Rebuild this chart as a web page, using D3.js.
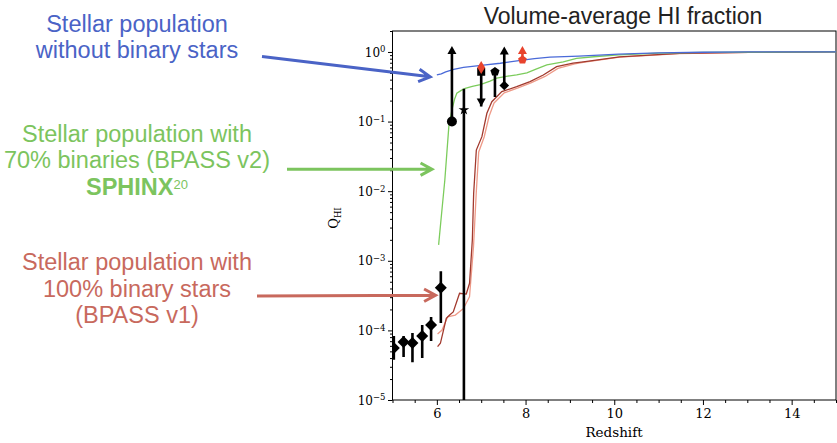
<!DOCTYPE html>
<html>
<head>
<meta charset="utf-8">
<script src="https://cdn.jsdelivr.net/npm/d3@7"></script>
<style>
  body { margin: 0; background: #fff; }
  .tick text { font-family: "DejaVu Serif", serif; fill: #000; }
</style>
</head>
<body>
<svg width="837" height="443"></svg>
<script>
// Simulatiecurves: redshift en neutrale fractie
var blueZ = [6.0, 6.1, 6.2, 6.38, 6.6, 7.0, 7.43, 7.85, 8.2, 8.55, 9.2, 10.1, 11.0, 12.0, 13.0, 15.0]
var blueQ = [0.467, 0.483, 0.516, 0.564, 0.599, 0.64, 0.688, 0.75, 0.8, 0.84, 0.87, 0.93, 0.97, 0.99, 1.0, 1.0]

var greenZ = [6.04, 6.1, 6.18, 6.27, 6.34, 6.4, 6.45, 6.55, 6.64, 6.8, 6.98, 7.2, 7.35, 7.6, 7.8, 8.03, 8.25, 8.48, 8.85, 9.15, 9.6, 10.1, 11.0, 12.0, 13.0, 15.0]
var greenQ = [0.00169, 0.0043, 0.0145, 0.0845, 0.147, 0.21, 0.255, 0.28, 0.30, 0.32, 0.34, 0.38, 0.42, 0.45, 0.47, 0.50, 0.57, 0.65, 0.72, 0.81, 0.86, 0.91, 0.96, 0.985, 0.995, 1.0]

var darkRedZ = [6.016, 6.08, 6.213, 6.288, 6.37, 6.512, 6.663, 6.737, 6.80, 6.83, 6.89, 7.016, 7.128, 7.24, 7.465, 7.80, 8.10, 8.40, 8.70, 9.07, 9.3, 10.12, 11.47, 13.04, 15.0]
var darkRedQ = [5.83e-5, 6.53e-5, 1.49e-4, 1.66e-4, 1.84e-4, 3.41e-4, 3.33e-4, 4.75e-4, 1.99e-3, 9.3e-3, 0.039, 0.0607, 0.1315, 0.193, 0.269, 0.317, 0.374, 0.467, 0.616, 0.69, 0.72, 0.847, 0.951, 0.984, 1.0]

var lightRedZ = [6.016, 6.117, 6.243, 6.416, 6.602, 6.737, 6.827, 6.888, 6.944, 7.067, 7.18, 7.29, 7.52, 7.83, 8.12, 8.44, 8.73, 9.11, 9.3, 10.12, 11.47, 13.04, 15.0]
var lightRedQ = [8.87e-5, 1.01e-4, 1.57e-4, 1.66e-4, 2.07e-4, 3.05e-4, 1.6e-3, 9.4e-3, 0.0366, 0.060, 0.12, 0.185, 0.258, 0.304, 0.359, 0.445, 0.58, 0.673, 0.71, 0.84, 0.95, 0.984, 1.0]

// Metingen bij lage redshift (ruiten met foutbalken)
var lowZ = [5.03, 5.25, 5.45, 5.67, 5.87, 6.09]
var lowQ = [5.6e-5, 6.8e-5, 6.6e-5, 8.3e-5, 1.2e-4, 4.1e-4]
var lowErrLo = [3.8e-5, 4.15e-5, 3.5e-5, 4.0e-5, 7.05e-5, 1.28e-4]
var lowErrHi = [8.3e-5, 8.3e-5, 9.2e-5, 1.2e-4, 1.56e-4, 7.1e-4]

// Ondergrenzen (pijl omhoog)
var lowerLimZ = [6.34, 7.52, 7.93]
var lowerLimQ = [0.10, 0.33, 0.77]
var lowerLimTo = [1.22, 1.2, 1.22]
var lowerLimMarker = ["circle", "diamond", "pentagon"]
var lowerLimColor = ["#000", "#000", "#e8432d"]

// Bovengrens (pijl omlaag)
var upperLimZ = [7.0]
var upperLimQ = [0.52]
var upperLimTo = [0.164]

// Metingen met foutbalken
var errZ = [6.61, 7.31]
var errQ = [0.147, 0.52]
var errLo = [1e-7, 0.225]
var errHi = [0.295, 0.52]
var errMarker = ["star", "pentagon"]

// Losse rode ruit
var redPointZ = [7.0]
var redPointQ = [0.60]

var xTicks = [6, 8, 10, 12, 14]
var yTicks = [-5, -4, -3, -2, -1, 0]

var svg = d3.select("svg")

var x = d3.scaleLinear()
    .domain([5, 15])
    .range([392.5, 836])

var y = d3.scaleLog()
    .domain([1e-5, 2])
    .range([400, 31])

svg.append("defs").append("clipPath")
    .attr("id", "plotclip")
  .append("rect")
    .attr("x", 392.5).attr("y", 31)
    .attr("width", 836 - 392.5).attr("height", 400 - 31)

// Assen
var xMinor = d3.range(5, 15.01, 0.5).filter(function(v) { return xTicks.indexOf(v) < 0 })

svg.append("g")
    .attr("transform", "translate(0,400)")
    .call(d3.axisBottom(x).tickValues(xMinor).tickSize(3).tickSizeOuter(0).tickFormat(""))
    .call(function(g) { g.select(".domain").remove() })

svg.append("g")
    .attr("transform", "translate(0,400)")
    .call(d3.axisBottom(x).tickValues(xTicks).tickSize(5).tickSizeOuter(0).tickPadding(4))
    .call(function(g) { g.select(".domain").remove() })
    .selectAll("text")
      .style("font-size", "13px")

var yMinor = []
yTicks.forEach(function(d) {
  for (var k = 2; k <= 9; k++) {
    var v = k * Math.pow(10, d)
    if (v <= 2) yMinor.push(v)
  }
})

svg.append("g")
    .attr("transform", "translate(392.5,0)")
    .call(d3.axisLeft(y).tickValues(yMinor).tickSize(2.5).tickSizeOuter(0).tickFormat(""))
    .call(function(g) { g.select(".domain").remove() })

var yAxis = svg.append("g")
    .attr("transform", "translate(392.5,0)")
    .call(d3.axisLeft(y).tickValues(yTicks.map(function(d) { return Math.pow(10, d) }))
      .tickSize(4.5).tickSizeOuter(0).tickFormat(""))
    .call(function(g) { g.select(".domain").remove() })

yAxis.selectAll(".tick").each(function(d) {
  var e = Math.round(Math.log10(d))
  var t = d3.select(this).select("text")
      .attr("x", -7)
      .attr("dy", "0.35em")
      .style("font-size", "12px")
  t.append("tspan").text("10")
  t.append("tspan")
      .attr("dy", "-0.5em")
      .style("font-size", "8.5px")
      .text(e === 0 ? "0" : "\u2212" + Math.abs(e))
})

// Kader
svg.append("rect")
    .attr("x", 392.5).attr("y", 31)
    .attr("width", 836 - 392.5).attr("height", 400 - 31)
    .attr("fill", "none")
    .attr("stroke", "#000")
    .attr("stroke-width", 1)

// Curves
var line = d3.line()
    .x(function(d) { return x(d[0]) })
    .y(function(d) { return y(d[1]) })

var curves = svg.append("g").attr("clip-path", "url(#plotclip)")

function drawCurve(zs, qs, color) {
  curves.append("path")
      .datum(d3.zip(zs, qs))
      .attr("d", line)
      .attr("fill", "none")
      .attr("stroke", color)
      .attr("stroke-width", 1.3)
}

drawCurve(lightRedZ, lightRedQ, "#ee9a88")
drawCurve(darkRedZ, darkRedQ, "#a23a2e")
drawCurve(greenZ, greenQ, "#7ccc5c")
drawCurve(blueZ, blueQ, "#4a6ad8")

// Markervormen
function markerPath(type, s) {
  if (type === "diamond") return "M0," + (-s) + "L" + s + ",0L0," + s + "L" + (-s) + ",0Z"
  if (type === "thin") return "M0," + (-s) + "L" + (s * 0.6) + ",0L0," + s + "L" + (-s * 0.6) + ",0Z"
  if (type === "square") return "M" + (-s) + "," + (-s) + "h" + (2 * s) + "v" + (2 * s) + "h" + (-2 * s) + "Z"
  if (type === "pentagon") {
    var p = d3.range(5).map(function(i) {
      var a = -Math.PI / 2 + i * 2 * Math.PI / 5
      return [s * Math.cos(a), s * Math.sin(a)]
    })
    return "M" + p.join("L") + "Z"
  }
  if (type === "star") return d3.symbol(d3.symbolStar, s * s * 2.2)()
  return d3.symbol(d3.symbolCircle, Math.PI * s * s)()
}

var marks = svg.append("g").attr("clip-path", "url(#plotclip)")

function vbar(z, q0, q1, color) {
  marks.append("line")
      .attr("x1", x(z)).attr("x2", x(z))
      .attr("y1", y(q0)).attr("y2", y(q1))
      .attr("stroke", color)
      .attr("stroke-width", 2.6)
}

function arrowHead(z, q, dir, color) {
  var px = x(z), py = y(q)
  marks.append("path")
      .attr("d", "M" + px + "," + py + "L" + (px - 4.5) + "," + (py + dir * 8) + "L" + (px + 4.5) + "," + (py + dir * 8) + "Z")
      .attr("fill", color)
}

function marker(z, q, type, s, color) {
  marks.append("path")
      .attr("transform", "translate(" + x(z) + "," + y(q) + ")")
      .attr("d", markerPath(type, s))
      .attr("fill", color)
}

// Lage-redshift ruiten
lowZ.forEach(function(z, i) {
  vbar(z, lowErrLo[i], lowErrHi[i], "#000")
  marker(z, lowQ[i], "diamond", 6, "#000")
})

// Metingen met foutbalken
errZ.forEach(function(z, i) {
  vbar(z, errLo[i], errHi[i], "#000")
  marker(z, errQ[i], errMarker[i], errMarker[i] === "star" ? 4 : 4.8, "#000")
})

// Bovengrens
upperLimZ.forEach(function(z, i) {
  vbar(z, upperLimQ[i], upperLimTo[i], "#000")
  arrowHead(z, upperLimTo[i], -1, "#000")
  marker(z, upperLimQ[i], "square", 4, "#000")
})

// Ondergrenzen
lowerLimZ.forEach(function(z, i) {
  vbar(z, lowerLimQ[i], lowerLimTo[i] * 0.85, lowerLimColor[i])
  arrowHead(z, lowerLimTo[i], 1, lowerLimColor[i])
  var s = lowerLimMarker[i] === "circle" ? 5 : (lowerLimMarker[i] === "diamond" ? 4.8 : 4.6)
  marker(z, lowerLimQ[i], lowerLimMarker[i], s, lowerLimColor[i])
})

// Rode ruit
redPointZ.forEach(function(z, i) {
  marker(z, redPointQ[i], "thin", 6.5, "#e8432d")
})

// Titel en aslabels
svg.append("text")
    .attr("x", 623)
    .attr("y", 24)
    .attr("text-anchor", "middle")
    .style("font-family", "'Liberation Sans', Arial, sans-serif")
    .style("font-size", "23px")
    .style("fill", "#222")
    .text("Volume-average HI fraction")

svg.append("text")
    .attr("x", 614)
    .attr("y", 437)
    .attr("text-anchor", "middle")
    .style("font-family", "'DejaVu Serif', serif")
    .style("font-size", "13.5px")
    .text("Redshift")

var ylab = svg.append("text")
    .attr("transform", "translate(338,218) rotate(-90)")
    .attr("text-anchor", "middle")
    .style("font-family", "'DejaVu Serif', serif")
    .style("font-size", "13px")
ylab.append("tspan").text("Q")
ylab.append("tspan").attr("dy", "0.3em").style("font-size", "8.5px").text("HI")

// Annotaties links
var notes = [
  { color: "#4a63c6", lines: ["Stellar population", "without binary stars"], y0: 31.5,
    from: [262, 56.5], to: [5.85, 0.44] },
  { color: "#7cc45e", lines: ["Stellar population with", "70% binaries (BPASS v2)"], y0: 141.5,
    from: [287, 169.3], to: [5.89, 0.0207] },
  { color: "#c8695d", lines: ["Stellar population with", "100% binary stars", "(BPASS v1)"], y0: 270,
    from: [257, 296], to: [5.97, 3.2e-4] }
]

notes.forEach(function(n) {
  var t = svg.append("text")
      .attr("text-anchor", "middle")
      .style("font-family", "'Liberation Sans', Arial, sans-serif")
      .style("font-size", "23.5px")
      .style("fill", n.color)
  n.lines.forEach(function(l, i) {
    t.append("tspan")
        .attr("x", 137)
        .attr("y", n.y0 + i * 26.7)
        .text(l)
  })

  var x1 = n.from[0], y1 = n.from[1]
  var x2 = x(n.to[0]), y2 = y(n.to[1])
  var a = Math.atan2(y2 - y1, x2 - x1)
  var L = 13, w = 0.5
  svg.append("path")
      .attr("d", "M" + x1 + "," + y1 + "L" + x2 + "," + y2 +
        "M" + (x2 - L * Math.cos(a - w)) + "," + (y2 - L * Math.sin(a - w)) +
        "L" + x2 + "," + y2 +
        "L" + (x2 - L * Math.cos(a + w)) + "," + (y2 - L * Math.sin(a + w)))
      .attr("fill", "none")
      .attr("stroke", n.color)
      .attr("stroke-width", 3)
      .attr("stroke-linejoin", "miter")
})

// SPHINX regel
var sph = svg.append("text")
    .attr("x", 137)
    .attr("y", 195)
    .attr("text-anchor", "middle")
    .style("font-family", "'Liberation Sans', Arial, sans-serif")
    .style("font-weight", "bold")
    .style("font-size", "23.5px")
    .style("fill", "#7cc45e")
sph.append("tspan").text("SPHINX")
sph.append("tspan").attr("dy", "-0.45em").style("font-size", "13px").style("font-weight", "normal").text("20")
</script>
</body>
</html>
